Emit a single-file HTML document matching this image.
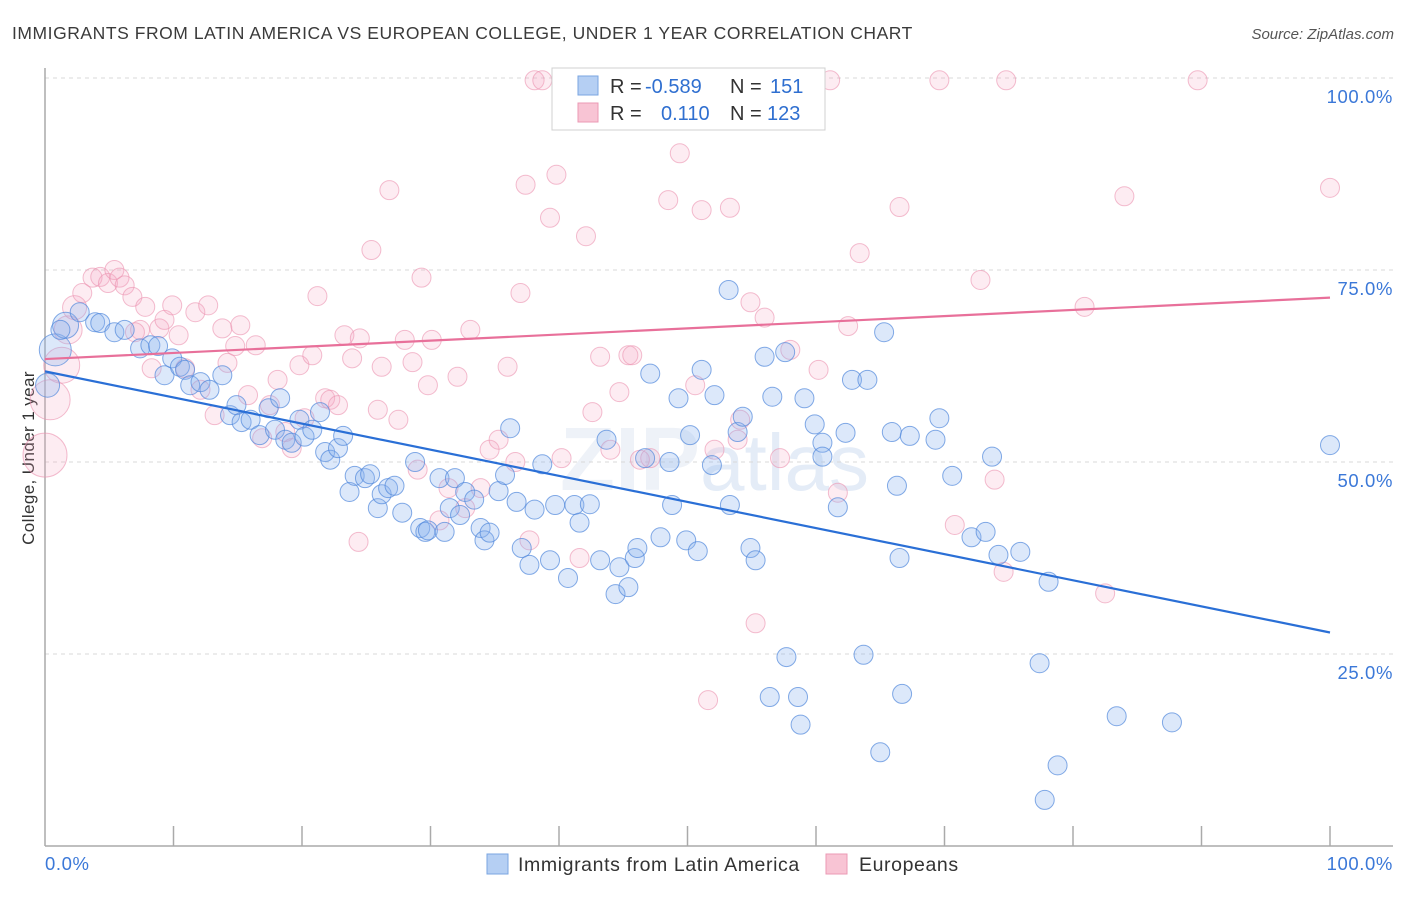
<!DOCTYPE html>
<html><head><meta charset="utf-8"><style>
body{margin:0;background:#fff;font-family:"Liberation Sans",sans-serif}
</style></head><body>
<svg id="chart" width="1406" height="892" xmlns="http://www.w3.org/2000/svg" style="font-family:'Liberation Sans',sans-serif">
<text x="12" y="39" font-size="17.5" letter-spacing="0.55" fill="#3a3a3a">IMMIGRANTS FROM LATIN AMERICA VS EUROPEAN COLLEGE, UNDER 1 YEAR CORRELATION CHART</text>
<text x="1394" y="39" font-size="15" fill="#555" font-style="italic" text-anchor="end">Source: ZipAtlas.com</text>
<text x="0" y="0" transform="translate(34,458) rotate(-90)" font-size="17" letter-spacing="0.4" fill="#333" text-anchor="middle">College, Under 1 year</text>
<text x="560" y="490" font-size="90" fill="#eef2f8" font-weight="bold">ZIP<tspan font-weight="normal" font-size="80" fill="#e4ecf7">atlas</tspan></text>
<g id="grid"></g><g id="axes"></g><g id="pink"></g><g id="blue"></g><g id="trends"></g>
<g>
<rect x="552" y="68" width="273" height="62" fill="#fff" stroke="#d0d0d0"/>
<rect x="578" y="76" width="20" height="19" fill="#b5cff3" stroke="#7aa5e0"/>
<rect x="578" y="103" width="20" height="19" fill="#f8c4d4" stroke="#eb9ab4"/>
<text x="610" y="93" font-size="20" fill="#333">R = <tspan fill="#2f6fd0" x="645">-0.589</tspan></text>
<text x="730" y="93" font-size="20" fill="#333">N = <tspan fill="#2f6fd0" x="770">151</tspan></text>
<text x="610" y="120" font-size="20" fill="#333">R = <tspan fill="#2f6fd0" x="661">0.110</tspan></text>
<text x="730" y="120" font-size="20" fill="#333">N = <tspan fill="#2f6fd0" x="767">123</tspan></text>
</g>
<g>
<rect x="487" y="854" width="21" height="20" fill="#b5cff3" stroke="#7aa5e0"/>
<text x="518" y="871" font-size="19.5" letter-spacing="0.6" fill="#333">Immigrants from Latin America</text>
<rect x="826" y="854" width="21" height="20" fill="#f8c4d4" stroke="#eb9ab4"/>
<text x="859" y="871" font-size="19.5" letter-spacing="0.6" fill="#333">Europeans</text>
</g>
</svg>
<script>
const yTicks=[25,50,75,100];
const yTickLabels=["25.0%","50.0%","75.0%","100.0%"];
const xTickVals=[0,10,20,30,40,50,60,70,80,90,100];
const xEndLabels=["0.0%","100.0%"];
const blueX=[0.8,0.2,1.6,2.7,3.9,4.3,5.4,6.2,7.4,8.2,8.8,9.3,9.9,10.5,10.9,11.3,12.1,12.8,13.8,14.4,14.9,15.3,16.0,16.7,17.4,17.9,18.3,18.7,19.2,19.8,20.2,20.8,21.4,21.8,22.2,22.8,23.2,23.7,24.1,24.9,25.3,25.9,26.2,26.7,27.2,27.8,28.8,29.2,29.6,29.8,30.7,31.1,31.5,31.9,32.3,32.7,33.4,33.9,34.2,34.6,35.3,35.8,36.2,36.7,37.1,37.7,38.1,38.7,39.3,39.7,40.7,41.2,41.6,42.4,43.2,43.7,44.4,44.7,45.4,45.9,46.1,46.7,47.1,47.9,48.6,48.8,49.3,49.9,50.2,50.8,51.1,51.9,52.1,53.2,53.3,53.9,54.3,54.9,55.3,56.0,56.6,57.6,57.7,56.4,58.6,58.8,59.1,59.9,60.5,60.5,61.7,62.3,62.8,64.0,65.0,65.3,65.9,66.3,66.5,66.7,67.3,69.3,69.6,70.6,72.1,73.2,73.7,74.2,75.9,77.4,77.8,78.1,78.8,83.4,87.7,100,1.2,63.7];
const blueY=[64.6,60.0,67.8,69.5,68.2,68.1,66.9,67.2,64.8,65.2,65.1,61.3,63.5,62.4,62.0,60.0,60.4,59.4,61.3,56.1,57.4,55.2,55.5,53.5,57.0,54.2,58.3,52.9,52.5,55.5,53.3,54.2,56.5,51.3,50.3,51.8,53.4,46.1,48.2,47.9,48.4,44.0,45.8,46.6,46.9,43.4,50.0,41.4,40.9,41.1,47.9,40.9,44.0,47.9,43.1,46.1,45.1,41.4,39.8,40.8,46.2,48.3,54.4,44.8,38.8,36.6,43.8,49.7,37.2,44.4,34.9,44.4,42.1,44.5,37.2,52.9,32.8,36.3,33.7,37.5,38.8,50.5,61.5,40.2,50.0,44.4,58.3,39.8,53.5,38.4,62.0,49.6,58.7,72.4,44.4,53.9,55.9,38.8,37.2,63.7,58.5,64.3,24.6,19.4,19.4,15.8,58.3,54.9,52.5,50.7,44.1,53.8,60.7,60.7,12.2,66.9,53.9,46.9,37.5,19.8,53.4,52.9,55.7,48.2,40.2,40.9,50.7,37.9,38.3,23.8,6.0,34.4,10.5,16.9,16.1,52.2,67.2,24.9];
const blueBig={0:16,1:12,2:13};
const pinkX=[0,0.4,1.3,1.8,2.3,2.9,3.7,4.3,4.9,5.4,5.8,6.2,6.8,7.4,7.8,8.3,8.9,9.3,9.9,10.4,10.9,11.7,12.1,12.7,13.2,13.8,14.2,14.8,15.2,15.8,16.4,16.9,17.5,18.1,18.7,19.2,19.8,20.2,20.8,21.2,21.8,22.2,22.8,23.3,23.9,24.4,24.5,25.4,25.9,26.2,26.8,27.5,28.0,28.6,29.0,29.3,29.8,30.1,30.7,31.4,32.1,32.7,33.1,33.9,34.6,35.3,36.0,36.6,37.0,37.4,37.7,38.1,38.7,39.3,39.8,40.2,40.9,41.6,42.1,42.6,43.2,44.0,44.7,45.4,45.7,46.3,47.1,48.5,49.4,50.6,51.1,51.6,52.1,53.3,53.9,54.1,54.9,55.0,55.3,56.0,57.2,58.0,60.2,61.1,61.7,62.5,63.4,66.5,69.6,70.8,72.8,73.9,74.6,74.8,80.9,82.5,84.0,89.7,100,7.0,41.2];
const pinkY=[50.9,58.1,62.6,67.2,70.1,72.0,74.0,74.1,73.3,75.0,74.0,73.0,71.5,67.2,70.2,62.2,67.4,68.5,70.4,66.5,62.2,69.5,59.4,70.4,56.1,67.4,62.9,65.1,67.8,58.7,65.2,53.1,57.4,60.7,53.9,51.8,62.6,55.7,63.9,71.6,58.3,58.1,57.4,66.5,63.5,39.6,66.1,77.6,56.8,62.4,85.4,55.5,65.9,63.0,49.0,74.0,60.0,65.9,42.4,46.6,61.1,44.0,67.2,46.6,51.6,52.9,62.4,50.0,72.0,86.1,39.8,99.7,99.7,81.8,87.4,50.5,99.7,37.5,79.4,56.5,63.7,51.6,59.1,63.9,63.9,50.3,50.5,84.1,90.2,60.0,82.8,19.0,51.6,83.1,52.9,55.5,70.8,99.7,29.0,68.8,50.5,64.6,62.0,99.7,46.0,67.7,77.2,83.2,99.7,41.8,73.7,47.7,35.7,99.7,70.2,32.9,84.6,99.7,85.7,66.9,99.7];
const pinkBig={0:22,1:20,2:18,3:14,4:12};
const blueTrend=[61.8,27.8];
const pinkTrend=[63.4,71.4];

const NS="http://www.w3.org/2000/svg";
const X0=45,X1=1330,Y0=846,Y100=78;
const sx=v=>X0+(X1-X0)*v/100;
const sy=v=>Y0-(Y0-Y100)*v/100;
function mk(tag,attrs,parent){const e=document.createElementNS(NS,tag);for(const k in attrs)e.setAttribute(k,attrs[k]);parent.appendChild(e);return e;}
const grid=document.getElementById('grid'),axes=document.getElementById('axes');
yTicks.forEach((t,i)=>{
  const l=mk('line',{x1:X0,x2:1393,y1:sy(t),y2:sy(t),stroke:'#d8d8d8','stroke-dasharray':'4,4'},grid);
  
  
  const tx=mk('text',{x:1393,y:sy(t)+25,'font-size':18.5,'letter-spacing':0.6,fill:'#3b78d8','text-anchor':'end'},axes);
  tx.textContent=yTickLabels[i];
  
  
});
const ya=mk('line',{x1:X0,x2:X0,y1:68,y2:Y0,stroke:'#aaa','stroke-width':1.5},axes);


const xa=mk('line',{x1:X0,x2:1393,y1:Y0,y2:Y0,stroke:'#aaa','stroke-width':1.5},axes);


xTickVals.forEach(t=>{if(t===0)return;
  const l=mk('line',{x1:sx(t),x2:sx(t),y1:826,y2:Y0,stroke:'#aaa','stroke-width':1.5},axes);
  
  
});
const xl0=mk('text',{x:45,y:870,'font-size':18.5,'letter-spacing':0.6,fill:'#3b78d8'},axes);xl0.textContent=xEndLabels[0];


const xl1=mk('text',{x:1393,y:870,'font-size':18.5,'letter-spacing':0.6,fill:'#3b78d8','text-anchor':'end'},axes);xl1.textContent=xEndLabels[1];


const pg=document.getElementById('pink'),bg=document.getElementById('blue');
pinkX.forEach((x,i)=>{
  const c=mk('circle',{cx:sx(x),cy:sy(pinkY[i]),r:pinkBig[i]||9.5,fill:'rgba(244,170,195,0.22)',stroke:'rgba(235,145,175,0.6)','stroke-width':1},pg);
  
  
});
blueX.forEach((x,i)=>{
  const c=mk('circle',{cx:sx(x),cy:sy(blueY[i]),r:blueBig[i]||9.5,fill:'rgba(140,180,238,0.3)',stroke:'rgba(80,135,220,0.7)','stroke-width':1},bg);
  
  
});
const tg=document.getElementById('trends');
const tb=mk('line',{x1:sx(0),x2:sx(100),y1:sy(blueTrend[0]),y2:sy(blueTrend[1]),stroke:'#2a6fd6','stroke-width':2.2},tg);


const tp=mk('line',{x1:sx(0),x2:sx(100),y1:sy(pinkTrend[0]),y2:sy(pinkTrend[1]),stroke:'#e8709a','stroke-width':2.2},tg);


</script>
</body></html>
